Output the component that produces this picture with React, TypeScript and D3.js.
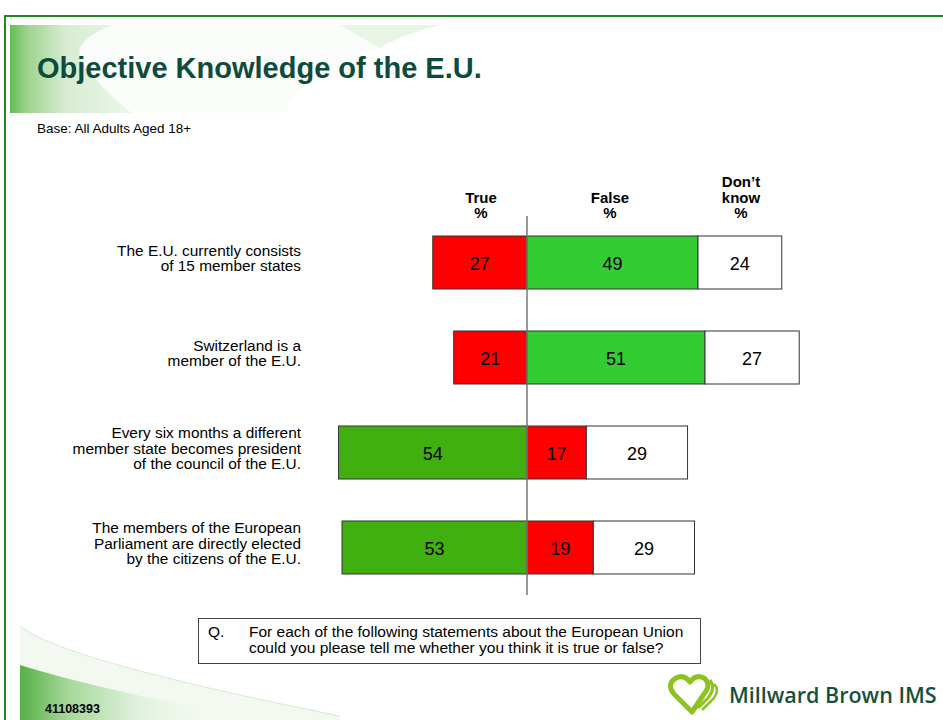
import React from "react";
import * as d3 from "d3";

const statements: string[][] = [
  ["The E.U. currently consists", "of 15 member states"],
  ["Switzerland is a", "member of the E.U."],
  ["Every six months a different", "member state becomes president", "of the council of the E.U."],
  ["The members of the European", "Parliament are directly elected", "by the citizens of the E.U."],
];
const trueVals = [27, 21, 54, 53];
const falseVals = [49, 51, 17, 19];
const dontKnowVals = [24, 27, 29, 29];
// which answer is correct
const correctAnswer = ["false", "false", "true", "true"];
const headers: string[][] = [["True", "%"], ["False", "%"], ["Don\u2019t", "know", "%"]];

const W = 943;
const H = 720;
const FONT = "Arial, 'Liberation Sans', Helvetica, sans-serif";
const RED = "#FF0000";
const GREEN_BRIGHT = "#33CC33";
const GREEN_DARK = "#40B010";

export default function App() {
  const x = d3.scaleLinear().domain([0, 1]).range([527, 527 + 3.49]);
  const step = 95;
  const barH = 53;
  const y = d3
    .scaleBand<number>()
    .domain(d3.range(statements.length))
    .range([215, 215 + step * 4])
    .paddingInner(1 - barH / step)
    .paddingOuter((1 - barH / step) / 2);
  const bh = y.bandwidth();

  return (
    <svg
      width={W}
      height={H}
      viewBox={`0 0 ${W} ${H}`}
      style={{ position: "absolute", left: 0, top: 0, background: "#fff" }}
      fontFamily={FONT}
    >
      <defs>
        <linearGradient id="hdrGrad" x1="0" x2="1" y1="0" y2="0">
          <stop offset="0" stopColor="#66BB55" />
          <stop offset="0.15" stopColor="#9FD490" />
          <stop offset="0.45" stopColor="#D6ECD0" />
          <stop offset="1" stopColor="#EEF6EC" />
        </linearGradient>
        <linearGradient id="topGrad" x1="0" x2="1" y1="0" y2="0">
          <stop offset="0" stopColor="#E8F4E5" />
          <stop offset="0.7" stopColor="#F0F7EE" />
          <stop offset="1" stopColor="#FFFFFF" stopOpacity="0" />
        </linearGradient>
        <linearGradient id="footGrad" x1="0" x2="1" y1="0" y2="0">
          <stop offset="0" stopColor="#55B045" />
          <stop offset="0.2" stopColor="#A6D89A" />
          <stop offset="0.5" stopColor="#E2F2DE" />
          <stop offset="1" stopColor="#FFFFFF" stopOpacity="0" />
        </linearGradient>
      </defs>

      <rect x={0} y={0} width={W} height={H} fill="#fff" />

      {/* header decoration */}
      <path d="M 440 25 L 10 25 L 10 113 L 285 113 Q 300 70 440 25 Z" fill="url(#topGrad)" />
      <path d="M 10 25 L 112 25 Q 70 42 82 62 Q 110 98 132 113 L 10 113 Z" fill="url(#hdrGrad)" />
      <path d="M 112 25 Q 70 42 82 62 Q 110 98 132 113 L 285 113 Q 300 70 440 25 Z" fill="#FBFDFB" />
      <path d="M 340 25 L 440 25 Q 400 35 380 48 Z" fill="#E3F1DF" opacity="0.8" />

      {/* footer decoration */}
      <path d="M 20 626 Q 60 660 340 716 L 340 720 L 20 720 Z" fill="#F3F9F1" />
      <path d="M 20 626 Q 60 660 340 716" fill="none" stroke="#D5EBCF" strokeWidth={1} />
      <path d="M 20 665 Q 100 690 260 720 L 20 720 Z" fill="url(#footGrad)" />

      {/* frame */}
      <rect x={5} y={16} width={W + 10} height={H + 10} fill="none" stroke="#1E8A1E" strokeWidth={2} />

      {/* title */}
      <text x={37} y={78} fontSize={29} fontWeight="bold" fill="#0C4B3E">
        Objective Knowledge of the E.U.
      </text>
      <text x={37} y={133} fontSize={13.5} fill="#000">
        Base: All Adults Aged 18+
      </text>

      {/* column headers */}
      {headers.map((lines, i) => {
        const cx = [481, 610, 741][i];
        const n = lines.length;
        return (
          <text key={i} textAnchor="middle" fontSize={15} fontWeight="bold" fill="#000">
            {lines.map((l, j) => (
              <tspan key={j} x={cx} y={218 - (n - 1 - j) * 15.5}>
                {l}
              </tspan>
            ))}
          </text>
        );
      })}

      {/* bars */}
      {statements.map((s, i) => {
        const y0 = y(i)!;
        const cy = y0 + bh / 2;
        const tCol = correctAnswer[i] === "true" ? GREEN_DARK : RED;
        const fCol = correctAnswer[i] === "false" ? GREEN_BRIGHT : RED;
        const segs = [
          { x0: x(-trueVals[i]), x1: x(0), v: trueVals[i], c: tCol },
          { x0: x(0), x1: x(falseVals[i]), v: falseVals[i], c: fCol },
          {
            x0: x(falseVals[i]),
            x1: x(falseVals[i] + dontKnowVals[i]),
            v: dontKnowVals[i],
            c: "#FFFFFF",
          },
        ];
        return (
          <g key={i}>
            {segs.map((sg, k) => (
              <g key={k}>
                <rect
                  x={sg.x0}
                  y={y0}
                  width={sg.x1 - sg.x0}
                  height={bh}
                  fill={sg.c}
                  stroke="#333"
                  strokeWidth={1}
                />
                <text
                  x={(sg.x0 + sg.x1) / 2}
                  y={cy + 7}
                  textAnchor="middle"
                  fontSize={18}
                  fill="#000"
                >
                  {sg.v}
                </text>
              </g>
            ))}
            <text textAnchor="end" fontSize={15.4} fill="#000">
              {s.map((l, j) => (
                <tspan key={j} x={301} y={cy + 1 + (j - (s.length - 1) / 2) * 15.5}>
                  {l}
                </tspan>
              ))}
            </text>
          </g>
        );
      })}

      {/* center axis */}
      <line x1={x(0)} x2={x(0)} y1={216} y2={595} stroke="#777" strokeWidth={1.5} />

      {/* question box */}
      <rect x={198.5} y={618.5} width={502} height={45} fill="#fff" stroke="#444" strokeWidth={1} />
      <text fontSize={15.5} fill="#000">
        <tspan x={208} y={637}>Q.</tspan>
        <tspan x={249} y={637}>For each of the following statements about the European Union</tspan>
        <tspan x={249} y={653}>could you please tell me whether you think it is true or false?</tspan>
      </text>

      {/* footer id */}
      <text x={45} y={713} fontSize={12.5} fontWeight="bold" fill="#000">
        41108393
      </text>

      {/* logo */}
      <g transform="translate(668,672)" fill="none" stroke="#8DC21F" strokeWidth={5} strokeLinejoin="round">
        <path d="M 24 40 L 6 22 Q -2 12 8 6 Q 16 2 22 10 Q 28 2 36 6 Q 44 12 36 22 Z" />
        <path d="M 30 36 L 40 26 Q 48 16 42 8" strokeWidth={3} />
        <path d="M 34 38 L 46 26 Q 52 18 46 12" strokeWidth={2.5} />
      </g>
      <text x={729} y={703} fontSize={21.5} fill="#17503F" fontFamily="'Open Sans', 'DejaVu Sans', sans-serif" fontWeight="600">
        Millward Brown IMS
      </text>
    </svg>
  );
}
